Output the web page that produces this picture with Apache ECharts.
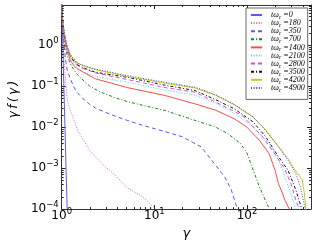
<!DOCTYPE html>
<html><head><meta charset="utf-8">
<script src="https://cdn.jsdelivr.net/npm/echarts@6/dist/echarts.min.js"></script>
<style>html,body{margin:0;padding:0;background:#fff}#c{width:314px;height:245px}</style>
</head><body><div id="c"></div>
<script>
// ---- data (gamma, gamma*f(gamma)) ----
const seriesNames = ['0','180','350','700','1400','2100','2800','3500','4200','4900'];

const g0 = [1, 1.01, 1.02, 1.036, 1.06, 1.085, 1.11, 1.146, 1.16];
const v0 = [10, 5, 2, 0.5, 0.068, 0.0097, 0.0013, 0.0001, 0.00005];

const g180 = [1, 1.02, 1.05, 1.1, 1.15, 1.24, 1.34, 1.5, 1.7, 2.0, 2.7, 3.7, 5.1, 7.5, 10.3, 11];
const v180 = [10, 2.5, 0.6, 0.13, 0.045, 0.025, 0.016, 0.008, 0.005, 0.0027, 0.0013, 0.0007, 0.00033, 0.0002, 0.0001, 0.00008];

const g350 = [1, 1.02, 1.05, 1.1, 1.15, 1.24, 1.34, 1.45, 1.7, 2.0, 2.32, 3.43, 5.09, 7.5, 13, 20, 31.9, 45.5, 57.6, 67.4, 78.7, 83];
const v350 = [10, 3.5, 1.3, 0.45, 0.24, 0.15, 0.1, 0.072, 0.049, 0.036, 0.029, 0.02, 0.0146, 0.011, 0.0078, 0.0058, 0.0033, 0.0012, 0.0006, 0.0003, 0.0001, 0.00007];

const g700 = [1, 1.02, 1.05, 1.1, 1.15, 1.24, 1.34, 1.45, 1.7, 2.0, 2.6, 3.7, 5.09, 7.5, 13, 27.4, 45.5, 62, 85, 100, 116.5, 136, 160, 175, 180];
const v700 = [10, 4, 1.8, 0.85, 0.55, 0.35, 0.26, 0.2, 0.14, 0.1, 0.072, 0.053, 0.042, 0.034, 0.0254, 0.0146, 0.0101, 0.0069, 0.004, 0.0023, 0.0009, 0.00035, 0.00015, 0.0001, 0.00008];

const g1400 = [1, 1.02, 1.05, 1.1, 1.15, 1.24, 1.34, 1.45, 1.7, 2.32, 3.43, 5.09, 13, 27.4, 45.5, 72.8, 99.6, 136, 173, 201, 218, 240, 255, 262, 275, 286, 292];
const v1400 = [10, 4.2, 2, 1.05, 0.68, 0.43, 0.32, 0.27, 0.22, 0.15, 0.118, 0.092, 0.059, 0.037, 0.026, 0.016, 0.01, 0.00475, 0.00226, 0.00089, 0.00042, 0.00025, 0.00017, 0.00015, 0.00016, 0.0001, 0.00006];

const g2100 = [1, 1.02, 1.05, 1.1, 1.15, 1.24, 1.34, 1.45, 1.7, 1.99, 3.0, 5.09, 13, 27.4, 45.5, 72.8, 116.5, 173, 218, 265, 310, 335, 345];
const v2100 = [10, 4.5, 2.2, 1.2, 0.78, 0.5, 0.38, 0.3, 0.23, 0.19, 0.152, 0.125, 0.08, 0.06, 0.038, 0.0215, 0.0102, 0.004, 0.0016, 0.0005, 0.00017, 0.0001, 0.00007];

const g2800 = [1, 1.02, 1.05, 1.1, 1.15, 1.24, 1.34, 1.45, 1.7, 2.32, 5.09, 13, 27.4, 45.5, 88.8, 147, 200, 255, 300, 335, 365, 375];
const v2800 = [10, 4.6, 2.3, 1.25, 0.82, 0.53, 0.41, 0.33, 0.27, 0.21, 0.145, 0.092, 0.071, 0.041, 0.0192, 0.0058, 0.0022, 0.00095, 0.0004, 0.00017, 0.0001, 0.00007];

const g3500 = [1, 1.02, 1.05, 1.1, 1.15, 1.24, 1.34, 1.45, 1.7, 2.32, 5.09, 13, 27.4, 45.5, 72.8, 116.5, 159, 218, 276, 335, 390, 400];
const v3500 = [10, 4.8, 2.4, 1.3, 0.85, 0.55, 0.42, 0.34, 0.28, 0.217, 0.164, 0.105, 0.078, 0.047, 0.028, 0.0133, 0.0058, 0.0019, 0.0009, 0.0003, 0.0001, 0.00007];

const g4200 = [1, 1.02, 1.05, 1.1, 1.15, 1.24, 1.34, 1.45, 2.32, 5.09, 13, 27.4, 45.5, 72.8, 116.5, 159, 218, 276, 335, 377, 393, 415, 432, 445];
const v4200 = [10, 5, 2.5, 1.35, 0.88, 0.58, 0.45, 0.37, 0.25, 0.172, 0.118, 0.09, 0.06, 0.035, 0.0175, 0.0085, 0.0034, 0.0017, 0.00085, 0.0006, 0.00052, 0.00025, 0.0001, 0.00006];

const g4900 = [1, 1.02, 1.05, 1.1, 1.15, 1.24, 1.34, 1.45, 1.7, 2.32, 5.09, 13, 27.4, 45.5, 72.8, 116.5, 159, 218, 276, 335, 377, 424, 440];
const v4900 = [10, 5, 2.6, 1.4, 0.9, 0.6, 0.47, 0.38, 0.31, 0.26, 0.18, 0.124, 0.094, 0.062, 0.036, 0.0176, 0.0083, 0.0033, 0.00156, 0.00074, 0.00035, 0.0001, 0.00007];

const xMin = 1, xMax = 490;
const yMin = 1e-4, yMax = 9.5;
const xDecades = [1, 10, 100];
const yDecades = [1e-4, 1e-3, 1e-2, 1e-1, 1];
const minorMultipliers = [2, 3, 4, 5, 6, 7, 8, 9];

// ---- styles ----
const gammaData = [g0, g180, g350, g700, g1400, g2100, g2800, g3500, g4200, g4900];
const valueData = [v0, v180, v350, v700, v1400, v2100, v2800, v3500, v4200, v4900];
const styles = [
  {color: '#5a5aee', type: 'solid'},
  {color: '#dd55dd', type: [1, 1.6]},
  {color: '#5a5aee', type: [4, 3]},
  {color: '#118811', type: [3, 2, 1, 2]},
  {color: '#ff4a4a', type: 'solid'},
  {color: '#44d8d8', type: [1, 1.6]},
  {color: '#dd44dd', type: [4, 3]},
  {color: '#111111', type: [3, 2, 1, 2]},
  {color: '#c8c820', type: 'solid'},
  {color: '#4444ee', type: [1, 1.6]}
];

const chart = echarts.init(document.getElementById('c'), null, {renderer: 'canvas'});

const lineSeries = seriesNames.map((n, i) => ({
  name: n,
  type: 'line',
  data: gammaData[i].map((g, k) => [g, valueData[i][k]]),
  symbol: 'none',
  clip: true,
  z: 2 + i,
  lineStyle: {color: styles[i].color, type: styles[i].type, width: 1},
  itemStyle: {color: styles[i].color},
  emphasis: {disabled: true}
}));

const xMinor = [], yMinor = [];
xDecades.forEach(d => minorMultipliers.forEach(m => { if (m * d < xMax) xMinor.push([m * d, yMin]); }));
yDecades.forEach(d => minorMultipliers.forEach(m => { if (m * d < yMax) yMinor.push([xMin, m * d]); }));

const tickColor = '#222';
const xMinorSeries = {
  type: 'custom', silent: true, data: xMinor, z: 20,
  renderItem: (params, api) => {
    const cs = params.coordSys;
    const px = Math.round(api.coord([api.value(0), yMin])[0]) + 0.5;
    return {type: 'group', children: [
      {type: 'line', shape: {x1: px, y1: cs.y + cs.height, x2: px, y2: cs.y + cs.height - 2}, style: {stroke: tickColor, lineWidth: 1}},
      {type: 'line', shape: {x1: px, y1: cs.y, x2: px, y2: cs.y + 2}, style: {stroke: tickColor, lineWidth: 1}}
    ]};
  }
};
const yMinorSeries = {
  type: 'custom', silent: true, data: yMinor, z: 20,
  renderItem: (params, api) => {
    const cs = params.coordSys;
    const py = Math.round(api.coord([xMin, api.value(1)])[1]) + 0.5;
    return {type: 'group', children: [
      {type: 'line', shape: {x1: cs.x, y1: py, x2: cs.x + 2, y2: py}, style: {stroke: tickColor, lineWidth: 1}},
      {type: 'line', shape: {x1: cs.x + cs.width, y1: py, x2: cs.x + cs.width - 2, y2: py}, style: {stroke: tickColor, lineWidth: 1}}
    ]};
  }
};

function powLabel(v) {
  const e = Math.round(Math.log10(v));
  return '{b|10}{s|' + (e < 0 ? '\u2212' + (-e) : e) + '}';
}
const labelRich = {
  b: {fontSize: 12, fontFamily: 'DejaVu Sans', color: '#000', verticalAlign: 'bottom', lineHeight: 12},
  s: {fontSize: 8.5, fontFamily: 'DejaVu Sans', color: '#000', verticalAlign: 'bottom', lineHeight: 9, padding: [0, 0, 6, 0]}
};
const axisLineStyle = {show: true, lineStyle: {color: '#333', width: 1}};
const majorTick = {show: true, inside: true, length: 4, lineStyle: {color: tickColor, width: 1}};

chart.setOption({
  animation: false,
  backgroundColor: '#fff',
  grid: {left: 47, top: 5, width: 264, height: 206, containLabel: false},
  xAxis: [
    {type: 'log', logBase: 10, min: xMin, max: xMax, position: 'bottom',
     axisLine: axisLineStyle, axisTick: majorTick, splitLine: {show: false},
     axisLabel: {margin: 1, formatter: powLabel, rich: labelRich, showMaxLabel: false, showMinLabel: true},
     name: 'γ', nameLocation: 'middle', nameGap: 13,
     nameTextStyle: {fontFamily: 'DejaVu Sans', fontStyle: 'italic', fontSize: 13, color: '#000'}},
    {type: 'log', logBase: 10, min: xMin, max: xMax, position: 'top',
     axisLine: axisLineStyle, axisTick: majorTick, splitLine: {show: false}, axisLabel: {show: false}}
  ],
  yAxis: [
    {type: 'log', logBase: 10, min: yMin, max: yMax, position: 'left',
     axisLine: axisLineStyle, axisTick: majorTick, splitLine: {show: false},
     axisLabel: {margin: 3, formatter: powLabel, rich: labelRich, showMaxLabel: false, showMinLabel: true},
     name: 'γ\u2009f\u2009(\u2009γ\u2009)', nameLocation: 'middle', nameGap: 40, nameRotate: 90,
     nameTextStyle: {fontFamily: 'DejaVu Sans', fontStyle: 'italic', fontSize: 12, color: '#000', padding: [0, 0, 0, 15]}},
    {type: 'log', logBase: 10, min: yMin, max: yMax, position: 'right',
     axisLine: axisLineStyle, axisTick: majorTick, splitLine: {show: false}, axisLabel: {show: false}}
  ],
  legend: {
    data: seriesNames,
    orient: 'vertical',
    left: 246, top: 8,
    padding: [3, 3, 6, 4],
    itemWidth: 11, itemHeight: 7, itemGap: -1.4,
    itemStyle: {opacity: 0},
    lineStyle: {inactiveWidth: 1},
    backgroundColor: '#fff',
    borderColor: '#666', borderWidth: 1, borderRadius: 0,
    selectedMode: false,
    formatter: n => '{a|tω}{c|c}{a| =' + n + '}',
    textStyle: {
      padding: [0, 0, 0, 4],
      lineHeight: 8,
      rich: {
        a: {fontFamily: 'Liberation Serif', fontStyle: 'italic', fontSize: 8, color: '#000', lineHeight: 8, verticalAlign: 'bottom'},
        c: {fontFamily: 'Liberation Serif', fontStyle: 'italic', fontSize: 5.5, color: '#000', lineHeight: 6, verticalAlign: 'bottom', padding: [0, 0, -1.5, 0]}
      }
    }
  },
  series: [...lineSeries, xMinorSeries, yMinorSeries]
});
</script>
</body></html>
